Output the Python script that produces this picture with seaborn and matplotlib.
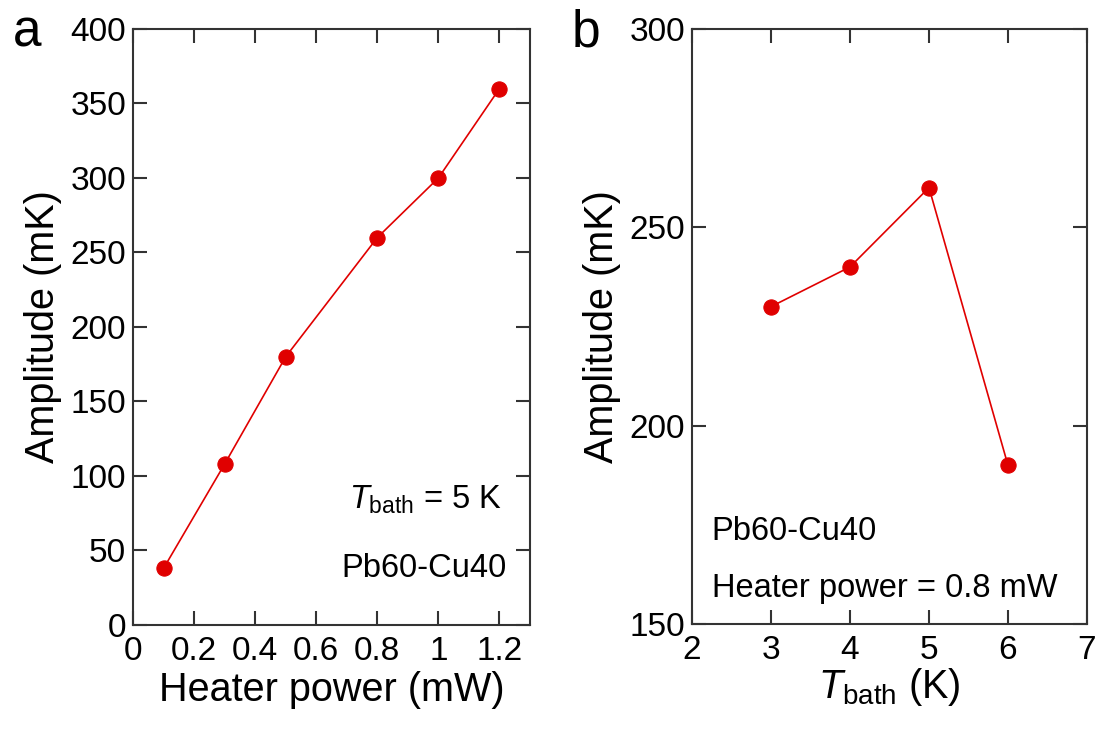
import matplotlib
matplotlib.use("Agg")
import matplotlib.pyplot as plt
import seaborn as sns
import pandas as pd

# Data
power_mw = [0.1, 0.3, 0.5, 0.8, 1.0, 1.2]
amp_a = [38, 108, 180, 260, 300, 360]
t_bath = [3, 4, 5, 6]
amp_b = [230, 240, 260, 190]

xticks_a = [0, 0.2, 0.4, 0.6, 0.8, 1.0, 1.2]
xticklabels_a = ["0", "0.2", "0.4", "0.6", "0.8", "1", "1.2"]
yticks_a = [0, 50, 100, 150, 200, 250, 300, 350, 400]
xticks_b = [2, 3, 4, 5, 6, 7]
yticks_b = [150, 200, 250, 300]

sns.set_theme(style="ticks")
plt.rcParams['font.family'] = ['Liberation Sans', 'DejaVu Sans']
plt.rcParams['mathtext.fontset'] = 'custom'
plt.rcParams['mathtext.rm'] = 'Liberation Sans'
plt.rcParams['mathtext.it'] = 'Liberation Sans:italic'
plt.rcParams['text.color'] = 'black'
plt.rcParams['axes.labelcolor'] = 'black'
plt.rcParams['xtick.labelcolor'] = 'black'
plt.rcParams['ytick.labelcolor'] = 'black'

red = "#e00000"
spine_c = "#333333"

fig = plt.figure(figsize=(11.04, 7.29), dpi=100)
ax1 = fig.add_axes([0.1205, 0.1427, 0.3596, 0.8176])
ax2 = fig.add_axes([0.6268, 0.1440, 0.3578, 0.8163])

df_a = pd.DataFrame({"x": power_mw, "y": amp_a})
df_b = pd.DataFrame({"x": t_bath, "y": amp_b})

for ax, df in [(ax1, df_a), (ax2, df_b)]:
    sns.lineplot(data=df, x="x", y="y", ax=ax, color=red, marker="o",
                 markersize=11, markeredgecolor=red, linewidth=1.2, sort=False)

tick_fs = 24
label_fs = 28.5
ann_fs = 23.5
for ax in (ax1, ax2):
    for s in ax.spines.values():
        s.set_visible(True)
        s.set_linewidth(1.5)
        s.set_color(spine_c)
    ax.tick_params(direction="in", top=True, right=True, length=10, width=1.5,
                   color=spine_c, labelsize=tick_fs, pad=5)
    ax.tick_params(axis="x", pad=8)
    ax.tick_params(axis="y", labelright=False)

ax1.set_xlim(0, 1.3)
ax1.set_ylim(0, 400)
ax1.set_xticks(xticks_a)
ax1.set_xticklabels(xticklabels_a)
ax1.set_yticks(yticks_a)
ax1.set_xlabel("Heater power (mW)", fontsize=label_fs, labelpad=3)
ax1.set_ylabel("Amplitude (mK)", fontsize=label_fs, labelpad=6)

ax2.set_xlim(2, 7)
ax2.set_ylim(150, 300)
ax2.set_xticks(xticks_b)
ax2.set_yticks(yticks_b)
ax2.set_xlabel(r"$T_{\mathrm{bath}}$ (K)", fontsize=label_fs, labelpad=0)
ax2.set_ylabel("Amplitude (mK)", fontsize=label_fs, labelpad=6)

ax1.text(0.93, 0.21, r"$T_{\mathrm{bath}}$ = 5 K", transform=ax1.transAxes,
         fontsize=ann_fs, ha="right", va="center")
ax1.text(0.94, 0.095, "Pb60-Cu40", transform=ax1.transAxes,
         fontsize=ann_fs, ha="right", va="center")
ax2.text(0.05, 0.155, "Pb60-Cu40", transform=ax2.transAxes,
         fontsize=ann_fs, ha="left", va="center")
ax2.text(0.05, 0.06, "Heater power = 0.8 mW", transform=ax2.transAxes,
         fontsize=ann_fs, ha="left", va="center")

fig.text(0.012, 0.955, "a", fontsize=37, ha="left", va="center")
fig.text(0.518, 0.955, "b", fontsize=37, ha="left", va="center")

fig.savefig("out.png", dpi=100)
